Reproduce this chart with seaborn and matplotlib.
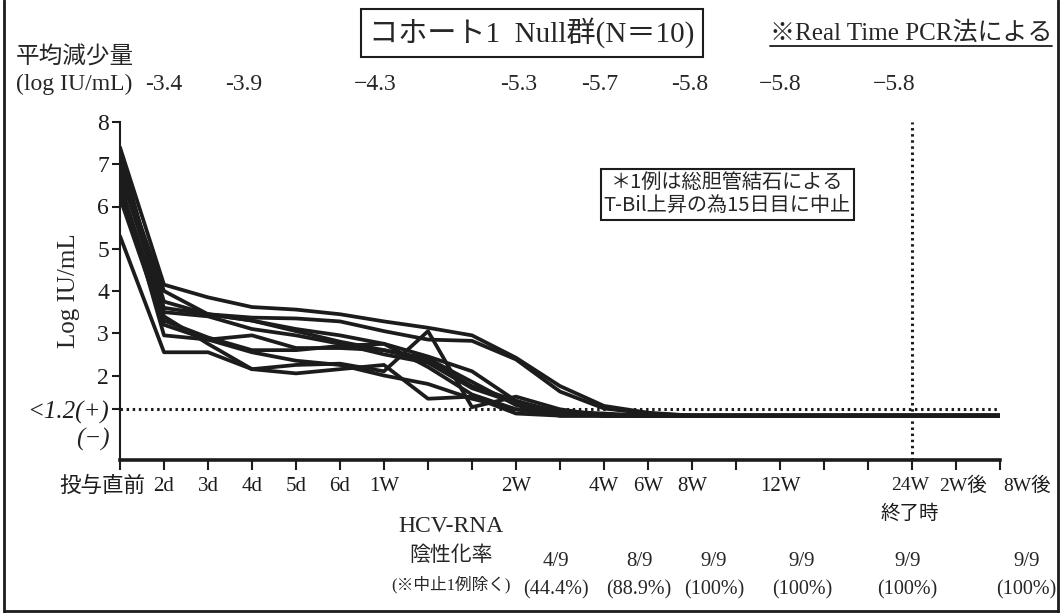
import numpy as np
import pandas as pd
import matplotlib
matplotlib.use("Agg")
import matplotlib.pyplot as plt
import matplotlib.transforms as mtransforms
from matplotlib.lines import Line2D
import seaborn as sns

# time points on the x axis (one slot per tick)
tick_labels = ['投与直前', '2d', '3d', '4d', '5d', '6d', '1W', '', '', '2W', '',
               '4W', '6W', '8W', '', '12W', '', '', '24W\n終了時', '2W後', '8W後']
# slots where measurements were taken
meas_pos = [0, 1, 2, 3, 4, 5, 6, 7, 8, 9, 10, 11, 12, 13, 15, 18, 19, 20]

# log IU/mL per patient (1.05 = below detection)
pt1 = [7.40, 4.15, 3.85, 3.62, 3.56, 3.45, 3.28, 3.13, 2.95, 2.42, 1.75, 1.28, 1.12, 1.05, 1.05, 1.05, 1.05, 1.05]
pt2 = [7.10, 3.75, 3.45, 3.37, 3.35, 3.28, 3.05, 2.85, 2.82, 2.38, 1.62, 1.22, 1.10, 1.05, 1.05, 1.05, 1.05, 1.05]
pt3 = [6.50, 3.40, 2.75, 2.15, 2.25, 2.28, 2.10, 3.05, 1.25, 1.50, 1.20, 1.05, 1.05, 1.05, 1.05, 1.05, 1.05, 1.05]
pt4 = [6.90, 4.00, 3.45, 3.30, 3.10, 2.95, 2.75, 2.45, 2.10, 1.40, 1.12, 1.05, 1.05, 1.05, 1.05, 1.05, 1.05, 1.05]
pt5 = [6.80, 3.60, 3.45, 3.30, 3.05, 2.80, 2.60, 2.40, 1.85, 1.30, 1.05, 1.05, 1.05, 1.05, 1.05, 1.05, 1.05, 1.05]
pt6 = [7.30, 3.50, 3.40, 3.10, 2.95, 2.75, 2.50, 2.30, 1.70, 1.35, 1.15, 1.10, 1.05, 1.05, 1.05, 1.05, 1.05, 1.05]
pt7 = [6.30, 3.30, 2.90, 2.60, 2.60, 2.70, 2.75, 2.20, 1.55, 1.20, 1.05, 1.05, 1.05, 1.05, 1.05, 1.05, 1.05, 1.05]
pt8 = [6.20, 3.20, 2.85, 2.55, 2.35, 2.25, 2.00, 1.80, 1.45, 1.20, 1.10, 1.05, 1.05, 1.05, 1.05, 1.05, 1.05, 1.05]
pt9 = [5.30, 2.55, 2.55, 2.15, 2.05, 2.15, 2.25, 1.45, 1.50, 1.10, 1.05, 1.05, 1.05, 1.05, 1.05, 1.05, 1.05, 1.05]
pt10 = [6.60, 2.95, 2.85, 2.95, 2.65, 2.65, 2.60, 2.35, 1.75, 1.40, 1.10, np.nan, np.nan, np.nan, np.nan, np.nan, np.nan, np.nan]
patients = [pt1, pt2, pt3, pt4, pt5, pt6, pt7, pt8, pt9, pt10]

# mean reduction row above the plot
reduction_vals = ['-3.4', '-3.9', '−4.3', '-5.3', '-5.7', '-5.8', '−5.8', '−5.8']
reduction_x = [1.0, 2.8, 5.8, 9.05, 10.9, 12.95, 15.0, 17.6]

# HCV-RNA negative rate row below the plot
neg_counts = ['4/9', '8/9', '9/9', '9/9', '9/9', '9/9']
neg_pcts = ['(44.4%)', '(88.9%)', '(100%)', '(100%)', '(100%)', '(100%)']
neg_x = [9.9, 11.8, 13.5, 15.5, 17.9, 20.6]

rows = []
for i, vals in enumerate(patients):
    for p, v in zip(meas_pos, vals):
        rows.append({'patient': i + 1, 'pos': p, 'value': v})
df = pd.DataFrame(rows).dropna()

sns.set_style('ticks')
plt.rcParams['font.family'] = ['Liberation Serif', 'Noto Sans CJK JP', 'DejaVu Sans']
plt.rcParams['axes.unicode_minus'] = True

W, H = 1062, 613
fig = plt.figure(figsize=(W / 100, H / 100), dpi=100)
ax = fig.add_axes([120 / W, 1 - 460 / H, 880 / W, 338 / H])

sns.lineplot(data=df, x='pos', y='value', units='patient', estimator=None,
             color='#1c1c1c', lw=2.7, legend=False, ax=ax)

ax.axhline(1.2, color='#1c1c1c', lw=2.2, ls=(0, (0.8, 1.2)))
ax.axvline(18, color='#1c1c1c', lw=2.2, ls=(0, (0.8, 1.2)))

ax.set_xlim(0, 20)
ax.set_ylim(0, 8)
ax.set_xticks(range(len(tick_labels)))
ax.set_xticklabels(tick_labels, fontsize=15, linespacing=1.75)
ax.set_yticks([1.2, 2, 3, 4, 5, 6, 7, 8])
ax.set_yticklabels(['<1.2(+)', '2', '3', '4', '5', '6', '7', '8'], fontsize=17)
ax.get_yticklabels()[0].set_style('italic')
ax.get_yticklabels()[0].set_fontsize(18)
ax.tick_params(axis='x', length=7, width=1.5, pad=5, colors='#1c1c1c')
ax.tick_params(axis='y', length=6, width=1.5, pad=2, colors='#1c1c1c')
ax.set_xlabel('')
ax.set_ylabel('Log IU/mL', fontsize=18)
ax.yaxis.set_label_coords(-0.046, 0.5)
for s in ['top', 'right']:
    ax.spines[s].set_visible(False)
ax.spines['left'].set_linewidth(1.5)
ax.spines['bottom'].set_linewidth(2.6)
ax.spines['left'].set_color('#1c1c1c')
ax.spines['bottom'].set_color('#1c1c1c')

# nudge crowded tick labels
def shift(lab, px):
    lab.set_transform(lab.get_transform() + mtransforms.ScaledTranslation(px / 100, 0, fig.dpi_scale_trans))

xt = ax.get_xticklabels()
xt[0].set_fontsize(15.5)
shift(xt[0], -18)
for lab in (xt[18], xt[19], xt[20]):
    lab.set_fontsize(14)
shift(xt[18], -2)
shift(xt[19], 7)
shift(xt[20], 27)

ax.text(-0.012, 0.48, '(−)', transform=mtransforms.blended_transform_factory(ax.transAxes, ax.transData),
        ha='right', va='center', fontsize=18, style='italic')

# header
def fx(px):
    return px / W

def fy(py):
    return 1 - py / H

fig.text(fx(532), fy(33), 'コホート1  Null群(N＝10)', ha='center', va='center', fontsize=21,
         bbox=dict(boxstyle='square,pad=0.3', fc='white', ec='#1c1c1c', lw=1.5))
pcr = fig.text(fx(1052), fy(33), '※Real Time PCR法による', ha='right', va='center', fontsize=18)
fig.text(fx(16), fy(58), '平均減少量', ha='left', va='center', fontsize=17)
fig.text(fx(16), fy(84), '(log IU/mL)', ha='left', va='center', fontsize=17)

top_tr = mtransforms.blended_transform_factory(ax.transData, fig.transFigure)
for xv, txt in zip(reduction_x, reduction_vals):
    ax.text(xv, fy(84), txt, transform=top_tr, ha='center', va='center', fontsize=17)

# annotation box
ax.text(13.8, 6.28, '＊1例は総胆管結石による\nT-Bil上昇の為15日目に中止', ha='center', va='center',
        fontsize=14.5, family=['Noto Sans CJK JP'], linespacing=1.2,
        bbox=dict(boxstyle='square,pad=0.15', fc='white', ec='#1c1c1c', lw=1.5))

# footer
fig.text(fx(451), fy(527), 'HCV-RNA', ha='center', va='center', fontsize=17)
fig.text(fx(451), fy(556), '陰性化率', ha='center', va='center', fontsize=15)
fig.text(fx(451), fy(585), '(※中止1例除く)', ha='center', va='center', fontsize=12)
for xv, c, p in zip(neg_x, neg_counts, neg_pcts):
    ax.text(xv, fy(561), c, transform=top_tr, ha='center', va='center', fontsize=15)
    ax.text(xv, fy(590), p, transform=top_tr, ha='center', va='center', fontsize=14.5)

# outer frame
for xs, ys in [([fx(4), fx(4)], [0, 1]), ([fx(1058), fx(1058)], [0, 1]), ([fx(4), fx(1058)], [fy(611), fy(611)])]:
    fig.add_artist(Line2D(xs, ys, transform=fig.transFigure, color='#1c1c1c', lw=2))

# underline for the PCR note
fig.canvas.draw()
bb = pcr.get_window_extent().transformed(fig.transFigure.inverted())
fig.add_artist(Line2D([bb.x0, bb.x1], [bb.y0 - 0.002, bb.y0 - 0.002], transform=fig.transFigure,
                      color='#1c1c1c', lw=1.3))

fig.savefig('out.png', dpi=100)
